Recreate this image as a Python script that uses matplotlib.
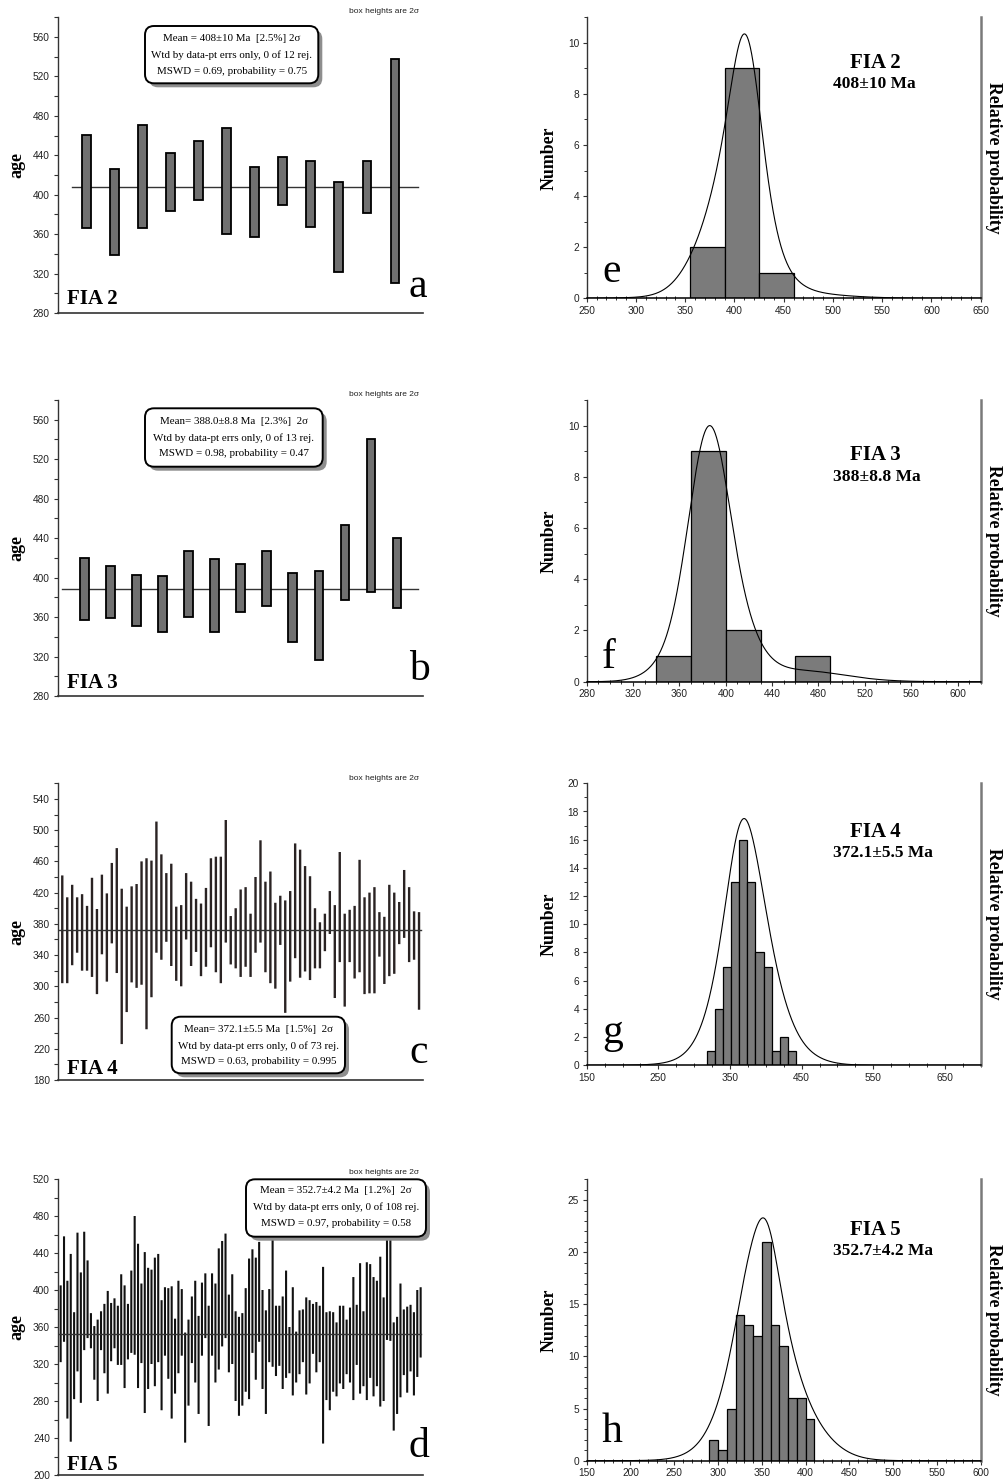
import numpy as np
import matplotlib
matplotlib.use("Agg")
import matplotlib.pyplot as plt
from matplotlib.patches import FancyBboxPatch
from matplotlib.ticker import FixedLocator, MultipleLocator, NullLocator
from matplotlib.transforms import Affine2D

# ---------------- data ----------------
# FIA 2 : box bottoms / tops (2 sigma)
fia2_low = [366, 339, 366, 383, 395, 360, 357, 390, 367, 322, 381, 310]
fia2_high = [461, 426, 471, 442, 454, 468, 428, 438, 434, 413, 434, 538]
fia2_mean = 408

# FIA 3
fia3_low = [357, 359, 351, 345, 360, 345, 365, 371, 335, 316, 377, 385, 369]
fia3_high = [420, 412, 403, 402, 427, 419, 414, 427, 405, 407, 453, 540, 440]
fia3_mean = 388.0

# FIA 4 (73 analyses)
fia4_low = [304, 304, 327, 343, 320, 320, 312, 290, 341, 306,
            355, 317, 226, 267, 305, 298, 302, 245, 286, 343,
            334, 357, 326, 307, 300, 360, 326, 344, 313, 325,
            350, 318, 304, 356, 328, 323, 312, 325, 312, 343,
            356, 318, 304, 297, 353, 266, 306, 336, 311, 319,
            308, 323, 323, 345, 367, 285, 331, 274, 331, 310,
            318, 290, 291, 291, 338, 303, 313, 316, 354, 362,
            331, 334, 270]
fia4_high = [442, 414, 430, 414, 418, 403, 439, 399, 443, 419,
             458, 477, 425, 402, 428, 431, 460, 464, 461, 511,
             469, 445, 457, 402, 404, 445, 434, 412, 406, 426,
             464, 466, 466, 513, 390, 400, 424, 427, 393, 440,
             487, 434, 447, 407, 416, 410, 422, 483, 475, 454,
             441, 400, 382, 393, 422, 404, 472, 393, 398, 403,
             462, 414, 420, 427, 395, 389, 430, 420, 408, 449,
             427, 396, 395]
fia4_mean = 372.1

# FIA 5 (108 analyses)
fia5_low = [322, 344, 261, 236, 282, 312, 278, 335, 348, 337,
            303, 280, 335, 310, 288, 323, 337, 319, 319, 294,
            325, 332, 330, 294, 321, 267, 293, 320, 296, 322,
            270, 329, 304, 261, 288, 310, 329, 235, 275, 321,
            300, 266, 329, 348, 253, 329, 300, 314, 339, 348,
            311, 320, 280, 264, 275, 290, 282, 332, 303, 344,
            293, 266, 322, 317, 307, 318, 293, 305, 310, 286,
            300, 309, 322, 287, 299, 331, 311, 322, 234, 281,
            270, 290, 285, 299, 293, 309, 300, 281, 319, 288,
            296, 281, 305, 285, 296, 274, 280, 346, 345, 248,
            266, 284, 308, 289, 312, 286, 306, 327]
fia5_high = [405, 458, 410, 439, 376, 462, 419, 463, 432, 375,
             361, 368, 377, 385, 399, 386, 391, 383, 417, 405,
             385, 421, 480, 450, 407, 441, 424, 422, 435, 439,
             389, 403, 402, 404, 369, 410, 401, 354, 368, 393,
             410, 372, 408, 418, 383, 418, 407, 445, 453, 461,
             395, 417, 377, 371, 375, 402, 434, 444, 435, 452,
             400, 378, 401, 462, 383, 383, 393, 421, 360, 403,
             355, 378, 379, 392, 389, 385, 387, 383, 425, 376,
             377, 376, 365, 383, 383, 368, 381, 414, 384, 429,
             377, 430, 428, 414, 410, 436, 392, 472, 470, 365,
             371, 407, 379, 382, 384, 376, 400, 403]
fia5_mean = 352.7

# histograms: bin edges and counts
e_edges = [355, 390, 425, 460]
e_counts = [2, 9, 1]
f_edges = [340, 370, 400, 430, 460, 490]
f_counts = [1, 9, 2, 0, 1]
g_edges = [318.5, 329.6, 340.8, 352.0, 363.2, 374.3, 385.5, 397.0, 408.2, 419.5, 431.0, 442.3]
g_counts = [1, 4, 7, 13, 16, 13, 8, 7, 1, 2, 1]
h_edges = [290, 300, 310, 320, 330, 340, 350, 360, 370, 380, 390, 400, 410]
h_counts = [2, 1, 5, 14, 13, 12, 21, 13, 11, 6, 6, 4]
# peak heights of the relative-probability curves (in Number units)
curve_peaks = [10.35, 10.0, 17.5, 23.3]

box_texts = [
    ["Mean = 408\u00b110 Ma  [2.5%] 2\u03c3",
     "Wtd by data-pt errs only, 0 of 12 rej.",
     "MSWD = 0.69, probability = 0.75"],
    ["Mean= 388.0\u00b18.8 Ma  [2.3%]  2\u03c3",
     "Wtd by data-pt errs only, 0 of 13 rej.",
     "MSWD = 0.98, probability = 0.47"],
    ["Mean= 372.1\u00b15.5 Ma  [1.5%]  2\u03c3",
     "Wtd by data-pt errs only, 0 of 73 rej.",
     "MSWD = 0.63, probability = 0.995"],
    ["Mean = 352.7\u00b14.2 Ma  [1.2%]  2\u03c3",
     "Wtd by data-pt errs only, 0 of 108 rej.",
     "MSWD = 0.97, probability = 0.58"],
]
fia_names = ["FIA 2", "FIA 3", "FIA 4", "FIA 5"]
age_texts = ["408\u00b110 Ma", "388\u00b18.8 Ma", "372.1\u00b15.5 Ma", "352.7\u00b14.2 Ma"]

# ---------------- figure ----------------
W, H = 1006, 1481
plt.rcParams['font.family'] = ['Liberation Sans', 'DejaVu Sans']
SERIF = ['Liberation Serif', 'DejaVu Serif']
fig = plt.figure(figsize=(W / 100, H / 100), dpi=100)
fig.patch.set_facecolor('white')
PIX = Affine2D().scale(1.0 / W, -1.0 / H).translate(0, 1) + fig.transFigure


def add_ax(l, t, r, b):
    return fig.add_axes([l / W, 1 - b / H, (r - l) / W, (b - t) / H])


def ftext(x, y, s, **kw):
    kw.setdefault('zorder', 8)
    fig.text(x, y, s, transform=PIX, **kw)


def stat_box(l, t, r, b, lines, ys):
    sh = FancyBboxPatch((l + 4, t + 4), r - l, b - t,
                        boxstyle="round,pad=0,rounding_size=9",
                        transform=PIX, facecolor='#8e8e8e', edgecolor='none', zorder=6)
    bx = FancyBboxPatch((l, t), r - l, b - t,
                        boxstyle="round,pad=0,rounding_size=9",
                        transform=PIX, facecolor='white', edgecolor='black',
                        linewidth=1.4, zorder=7)
    fig.add_artist(sh)
    fig.add_artist(bx)
    cx = (l + r) / 2
    for s, y in zip(lines, ys):
        ftext(cx, y, s, ha='center', va='center', fontsize=7.9, family=SERIF)


def left_panel(top, bottom, ylo, yhi, low, high, mean, xlim, width, face, edge,
               lw, span, line_z):
    ax = add_ax(58.3, top, 423, bottom)
    low = np.asarray(low, float)
    high = np.asarray(high, float)
    x = np.arange(1, len(low) + 1)
    bars = ax.bar(x, high - low, bottom=low, width=width, facecolor=face,
                  edgecolor=edge, linewidth=lw, zorder=2)
    if edge == 'none':
        for p in bars:
            p.set_snap(False)
    ax.axhline(mean, xmin=span[0], xmax=span[1], color='#333333', lw=1.0, zorder=line_z)
    ax.set_xlim(*xlim)
    ax.set_ylim(ylo, yhi)
    for s in ['top', 'right']:
        ax.spines[s].set_visible(False)
    ax.spines['left'].set_color('#333333')
    ax.spines['left'].set_linewidth(1.0)
    ax.spines['bottom'].set_color('#333333')
    ax.spines['bottom'].set_linewidth(1.2)
    ax.xaxis.set_major_locator(NullLocator())
    ax.yaxis.set_major_locator(FixedLocator(np.arange(ylo, yhi + 1, 40)))
    ax.yaxis.set_minor_locator(FixedLocator(np.arange(ylo, yhi + 1, 20)))
    ax.tick_params(axis='y', which='major', length=2.6, width=0.8, pad=3.5,
                   labelsize=7.3, labelcolor='#222222', color='#333333')
    ax.tick_params(axis='y', which='minor', length=2.6, width=0.8, color='#333333')
    ax.set_facecolor('none')
    return ax


def hist_panel(top, bottom, xlo, xhi, yhi, edges, counts, low, high, peak,
               xmaj, xmin_step, ymaj):
    ax = add_ax(586.7, top, 980.7, bottom)
    edges = np.asarray(edges, float)
    ax.bar(edges[:-1], counts, width=np.diff(edges), align='edge',
           facecolor='#7b7b7b', edgecolor='black', linewidth=0.9, zorder=2)
    low = np.asarray(low, float)
    high = np.asarray(high, float)
    mu = (low + high) / 2
    sig = (high - low) / 4
    xs = np.linspace(xlo, xhi, 1200)
    dens = np.sum(np.exp(-0.5 * ((xs[:, None] - mu) / sig) ** 2) / sig, axis=1)
    dens = dens / dens.max() * peak
    ax.plot(xs, dens, color='black', lw=0.8, zorder=3)
    ax.set_xlim(xlo, xhi)
    ax.set_ylim(0, yhi)
    ax.spines['top'].set_visible(False)
    ax.spines['right'].set_color('#7a7a7a')
    ax.spines['right'].set_linewidth(1.8)
    ax.spines['left'].set_color('#333333')
    ax.spines['left'].set_linewidth(1.0)
    ax.spines['bottom'].set_color('black')
    ax.spines['bottom'].set_linewidth(1.1)
    ax.xaxis.set_major_locator(FixedLocator(xmaj))
    ax.xaxis.set_minor_locator(MultipleLocator(xmin_step))
    ax.yaxis.set_major_locator(MultipleLocator(ymaj))
    ax.yaxis.set_minor_locator(MultipleLocator(1))
    ax.tick_params(axis='both', which='major', length=3, width=0.8, pad=2.5,
                   labelsize=7.3, labelcolor='#222222', color='#333333')
    ax.tick_params(axis='x', which='minor', length=3, width=0.7,
                   direction='inout', color='#333333')
    ax.tick_params(axis='y', which='minor', length=2, width=0.7, color='#333333')
    ax.set_facecolor('none')
    return ax


# ---- left column ----
left_specs = [
    # top, bottom, ylo, yhi, low, high, mean, xlim, width, face, edge, lw, span, z
    (17.3, 313, 280, 580, fia2_low, fia2_high, fia2_mean, (0, 13), 0.31,
     '#707070', 'black', 1.3, (0.037, 0.987), 1),
    (400, 696, 280, 580, fia3_low, fia3_high, fia3_mean, (0, 14), 0.33,
     '#707070', 'black', 1.3, (0.009, 0.987), 1),
    (783.3, 1080, 180, 560, fia4_low, fia4_high, fia4_mean, (0.2, 73.8), 0.48,
     '#2a2323', 'none', 0, (0.0, 0.995), 3),
    (1179, 1475, 200, 520, fia5_low, fia5_high, fia5_mean, (0.3, 108.7), 0.62,
     '#111111', 'none', 0, (0.0, 0.995), 3),
]
letters_left = ['a', 'b', 'c', 'd']
letter_left_base = [297, 680, 1063, 1457]
fia_left_base = [304, 688, 1074, 1470]
boxh_y = [11.7, 394, 778, 1173]
boxes = [
    (145, 26, 318.3, 83.3, [38.3, 55, 71]),
    (145, 408.3, 322.7, 466.7, [421.7, 437.7, 453.3]),
    (171.7, 1016.7, 345, 1073.3, [1030, 1045.7, 1062]),
    (246, 1179.3, 426, 1236.7, [1190.7, 1206.7, 1223.3]),
]

for i, sp in enumerate(left_specs):
    (top, bottom, ylo, yhi, lo, hi, mean, xlim, wid, face, edge, lw, span, z) = sp
    left_panel(top, bottom, ylo, yhi, lo, hi, mean, xlim, wid, face, edge, lw, span, z)
    ftext(17, (top + bottom) / 2, 'age', rotation=90, ha='center', va='center',
          fontsize=13, fontweight='bold', family=SERIF)
    ftext(67, fia_left_base[i], fia_names[i], ha='left', va='baseline',
          fontsize=15, fontweight='bold', family=SERIF)
    ftext(409, letter_left_base[i], letters_left[i], ha='left', va='baseline',
          fontsize=30, family=SERIF)
    ftext(419, boxh_y[i], 'box heights are 2\u03c3', ha='right', va='center',
          fontsize=6.0, color='#222222')
    l, t, r, b, ys = boxes[i]
    stat_box(l, t, r, b, box_texts[i], ys)

# ---- right column ----
right_specs = [
    (17.3, 298.3, 250, 650, 11, e_edges, e_counts, fia2_low, fia2_high,
     np.arange(250, 651, 50), 10, 2),
    (400, 681.7, 280, 620, 11, f_edges, f_counts, fia3_low, fia3_high,
     np.arange(280, 601, 40), 10, 2),
    (783.3, 1065.3, 150, 700, 20, g_edges, g_counts, fia4_low, fia4_high,
     np.arange(150, 651, 100), 25, 2),
    (1179.3, 1460.7, 150, 600, 27, h_edges, h_counts, fia5_low, fia5_high,
     np.arange(150, 601, 50), 10, 5),
]
letters_right = ['e', 'f', 'g', 'h']
letter_right_base = [282, 668, 1043, 1442]
fia_right_base = [68, 460, 836.7, 1235]
age_right_base = [88, 480.7, 857.3, 1255]

for i, sp in enumerate(right_specs):
    (top, bottom, xlo, xhi, yhi, ed, ct, lo, hi, xmaj, xmn, ymaj) = sp
    hist_panel(top, bottom, xlo, xhi, yhi, ed, ct, lo, hi, curve_peaks[i],
               xmaj, xmn, ymaj)
    mid = (top + bottom) / 2
    ftext(549, mid, 'Number', rotation=90, ha='center', va='center',
          fontsize=12.8, fontweight='bold', family=SERIF)
    ftext(994, mid, 'Relative probability', rotation=-90, ha='center', va='center',
          fontsize=12.8, fontweight='bold', family=SERIF)
    ftext(602, letter_right_base[i], letters_right[i], ha='left', va='baseline',
          fontsize=30, family=SERIF)
    ftext(850, fia_right_base[i], fia_names[i], ha='left', va='baseline',
          fontsize=15, fontweight='bold', family=SERIF)
    ftext(833.3, age_right_base[i], age_texts[i], ha='left', va='baseline',
          fontsize=12.5, fontweight='bold', family=SERIF)

fig.savefig('out.png', dpi=100, facecolor='white')
